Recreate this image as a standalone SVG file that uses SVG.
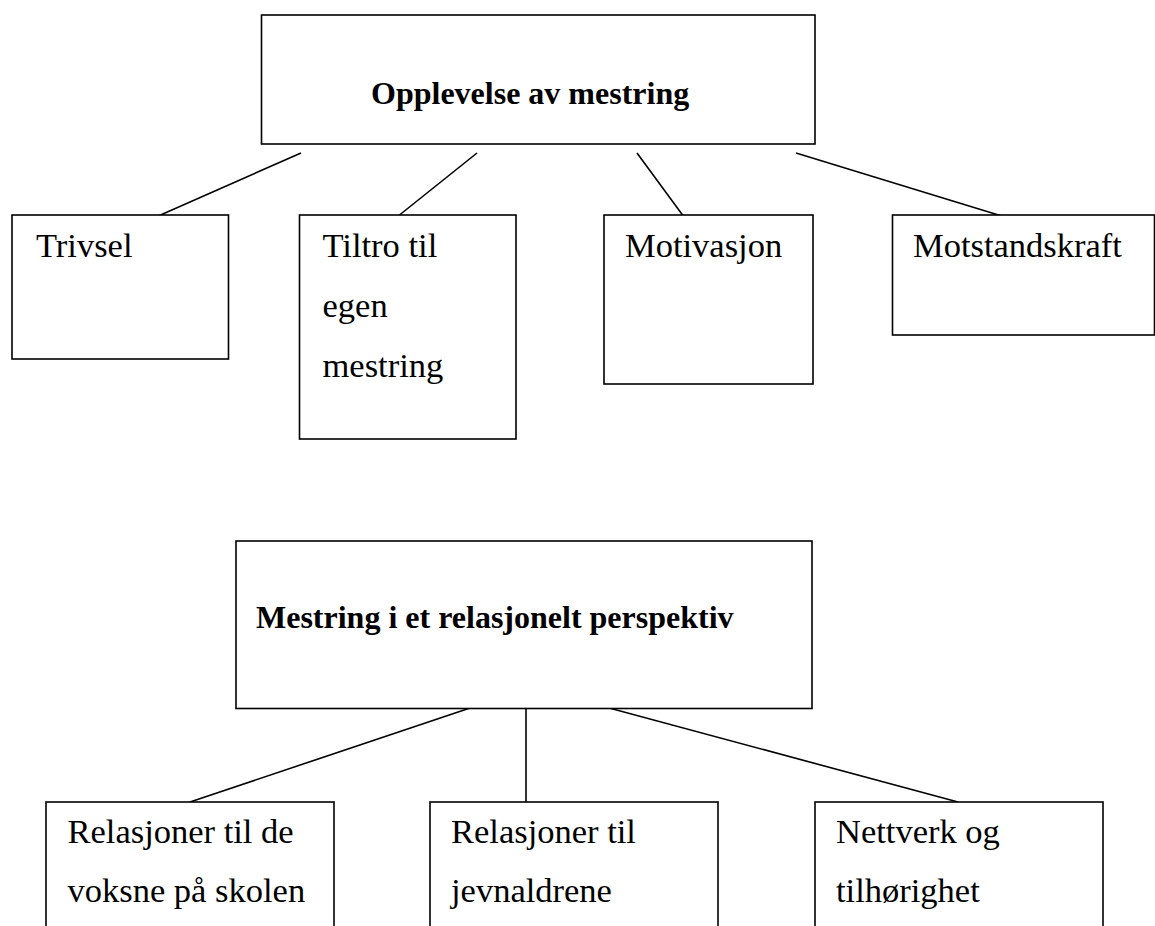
<svg xmlns="http://www.w3.org/2000/svg" width="1155" height="926" viewBox="0 0 1155 926">
<style>
.box{fill:#fff;stroke:#000;stroke-width:1.6}
.c line{stroke:#000;stroke-width:1.6}
.t{font-family:'Liberation Serif','Times New Roman',serif;font-size:34.5px;fill:#000}
.b{font-weight:bold;font-size:32px}
</style>
<rect width="1155" height="926" fill="#fff"/>
<g class="c" id="connectors">
<line x1="301" y1="153" x2="156" y2="217"/>
<line x1="477" y1="153" x2="397" y2="217"/>
<line x1="637" y1="153" x2="684" y2="217"/>
<line x1="796" y1="153" x2="1005" y2="217"/>
<line x1="479" y1="705" x2="190" y2="802"/>
<line x1="526" y1="705" x2="526" y2="802"/>
<line x1="598" y1="705" x2="958" y2="802"/>
</g>
<g id="n-opplevelse">
<rect class="box" x="261.5" y="15" width="553.5" height="129"/>
<text class="t b" x="371" y="104">Opplevelse av mestring</text>
</g>
<g id="n-trivsel">
<rect class="box" x="12" y="215" width="216.5" height="144"/>
<text class="t" x="36" y="257">Trivsel</text>
</g>
<g id="n-tiltro">
<rect class="box" x="299.5" y="215" width="216.5" height="224"/>
<text class="t" x="322.5" y="257">Tiltro til</text>
<text class="t" x="322.5" y="317">egen</text>
<text class="t" x="322.5" y="377">mestring</text>
</g>
<g id="n-motivasjon">
<rect class="box" x="604" y="215" width="209" height="169"/>
<text class="t" x="625" y="257">Motivasjon</text>
</g>
<g id="n-motstandskraft">
<rect class="box" x="892.5" y="215" width="262" height="120"/>
<text class="t" x="913" y="257">Motstandskraft</text>
</g>
<g id="n-relasjonelt">
<rect class="box" x="236" y="541" width="576" height="167.5"/>
<text class="t b" x="256" y="628">Mestring i et relasjonelt perspektiv</text>
</g>
<g id="n-voksne">
<rect class="box" x="46" y="802" width="288" height="160"/>
<text class="t" x="67.5" y="843">Relasjoner til de</text>
<text class="t" x="67.5" y="902">voksne på skolen</text>
</g>
<g id="n-jevnaldrene">
<rect class="box" x="430" y="802" width="288" height="160"/>
<text class="t" x="451" y="843">Relasjoner til</text>
<text class="t" x="451" y="902">jevnaldrene</text>
</g>
<g id="n-nettverk">
<rect class="box" x="815" y="802" width="288" height="160"/>
<text class="t" x="836" y="843">Nettverk og</text>
<text class="t" x="836" y="902">tilhørighet</text>
</g>
</svg>
